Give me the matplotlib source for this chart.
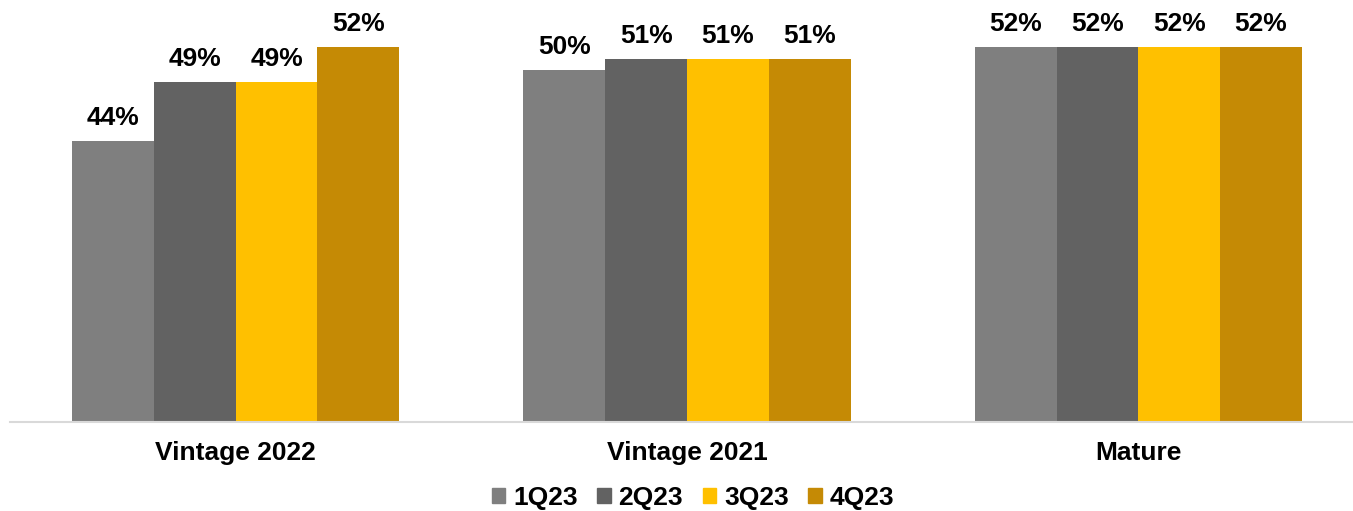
import matplotlib.pyplot as plt
import numpy as np
from matplotlib.patches import Patch

categories = ["Vintage 2022", "Vintage 2021", "Mature"]
series_names = ["1Q23", "2Q23", "3Q23", "4Q23"]
values = {
    "1Q23": [44, 50, 52],
    "2Q23": [49, 51, 52],
    "3Q23": [49, 51, 52],
    "4Q23": [52, 51, 52],
}
colors = ["#7F7F7F", "#626262", "#FFC000", "#C58A05"]

plt.rcParams["font.family"] = ["Liberation Sans", "DejaVu Sans"]

W, H = 1353, 511
fig = plt.figure(figsize=(W / 100, H / 100), dpi=100)
ax = fig.add_axes([10 / W, 1 - 422 / H, (1364 - 10) / W, 422 / H])

x = np.arange(len(categories))
bar_w = 0.725 / 4
for i, name in enumerate(series_names):
    pos = x + (i - 1.5) * bar_w
    ax.bar(pos, values[name], bar_w, color=colors[i], label=name)
    for xi, v in zip(pos, values[name]):
        ax.annotate(f"{v}%", (xi, v), xytext=(0, 23), textcoords="offset pixels",
                    ha="center", va="center", fontsize=19, fontweight="bold")

ax.set_xlim(-0.5, 2.5)
ax.set_ylim(20, 56)
for s in ["top", "right", "left"]:
    ax.spines[s].set_visible(False)
ax.spines["bottom"].set_color("#D9D9D9")
ax.spines["bottom"].set_linewidth(1.5)
ax.set_yticks([])
ax.set_xticks(x)
ax.set_xticklabels(categories, fontsize=19, fontweight="bold")
ax.tick_params(axis="x", length=0, pad=14)

# legend along the bottom edge, small square swatches
handles = [Patch(color=c) for c in colors]
fig.legend(handles, series_names, loc="center", bbox_to_anchor=(693 / W, 1 - 498 / H),
           ncol=4, frameon=False, prop={"size": 19, "weight": "bold"},
           handlelength=0.5, handleheight=0.5, handletextpad=0.3, columnspacing=0.75)

fig.savefig("out.png", dpi=100)
